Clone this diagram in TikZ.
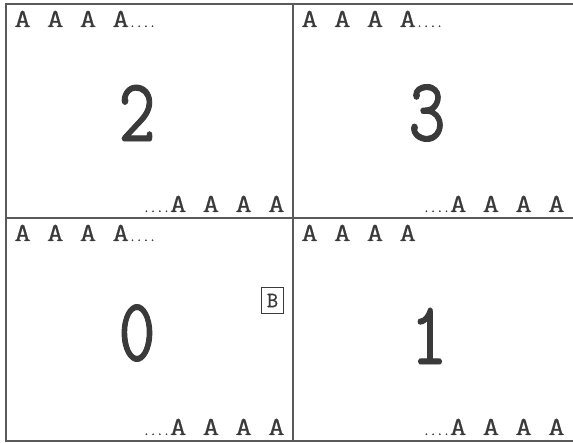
\documentclass[tikz,border=0pt]{standalone}
\usepackage{fontspec}
\newfontfamily\digitfont[FakeStretch=0.8,FakeBold=1]{Latin Modern Mono}
\newfontfamily\letterfont[FakeStretch=1.25,FakeBold=0.6]{Latin Modern Mono}
\newfontfamily\dotfont[FakeBold=1.5]{Latin Modern Mono}
\newfontfamily\boxfont[FakeBold=0.8]{Latin Modern Mono}
\definecolor{ink}{HTML}{3A3A3A}
\definecolor{rule}{HTML}{5A5A5A}
\newcommand\Agap{\hskip 16pt}
\newcommand\dotsrow{{\dotfont\fontsize{13}{13}\selectfont....}}
\begin{document}
\begin{tikzpicture}[x=1pt,y=-1pt,
  frame/.style={draw=rule,line width=2pt},
  divider/.style={draw=rule,line width=1.3pt},
  arow/.style={inner sep=0pt,text=ink,font=\letterfont\fontsize{26}{26}\selectfont},
  digit/.style={inner sep=0pt,text=ink,font=\digitfont\fontsize{90}{90}\selectfont},
  bbox/.style={draw=ink,line width=0.9pt,minimum width=22pt,minimum height=26pt,inner sep=0pt,text=ink,font=\boxfont\fontsize{22}{22}\selectfont}]
\useasboundingbox (0,0) rectangle (573,443);
% frame
\coordinate (tl) at (6,4);
\coordinate (tr) at (575,4);
\coordinate (bl) at (6,441);
\coordinate (br) at (575,441);
\coordinate (vt) at (293,4);
\coordinate (vb) at (293,441);
\coordinate (hl) at (6,218);
\coordinate (hr) at (575,218);
\draw[frame] (tr) -- (tl) -- (bl) -- (br);
\draw[divider] (vt) -- (vb);
\draw[divider] (hl) -- (hr);
% quadrant 2 (top left)
\node[arow,anchor=base west] (q2t) at (14,27) {A\Agap A\Agap A\Agap A\dotsrow};
\node[arow,anchor=base east] (q2b) at (285,212) {\dotsrow A\Agap A\Agap A\Agap A};
\node[digit] (n2) at (137,113) {2};
% quadrant 3 (top right)
\node[arow,anchor=base west] (q3t) at (301,27) {A\Agap A\Agap A\Agap A\dotsrow};
\node[arow,anchor=base east] (q3b) at (565,212) {\dotsrow A\Agap A\Agap A\Agap A};
\node[digit] (n3) at (427,113) {3};
% quadrant 0 (bottom left)
\node[arow,anchor=base west] (q0t) at (14,241) {A\Agap A\Agap A\Agap A\dotsrow};
\node[arow,anchor=base east] (q0b) at (285,435) {\dotsrow A\Agap A\Agap A\Agap A};
\node[digit] (n0) at (137,333) {0};
\node[bbox] (b) at (272.5,300.5) {B};
% quadrant 1 (bottom right)
\node[arow,anchor=base west] (q1t) at (301,241) {A\Agap A\Agap A\Agap A};
\node[arow,anchor=base east] (q1b) at (565,435) {\dotsrow A\Agap A\Agap A\Agap A};
\node[digit] (n1) at (429,336) {1};
\end{tikzpicture}
\end{document}
